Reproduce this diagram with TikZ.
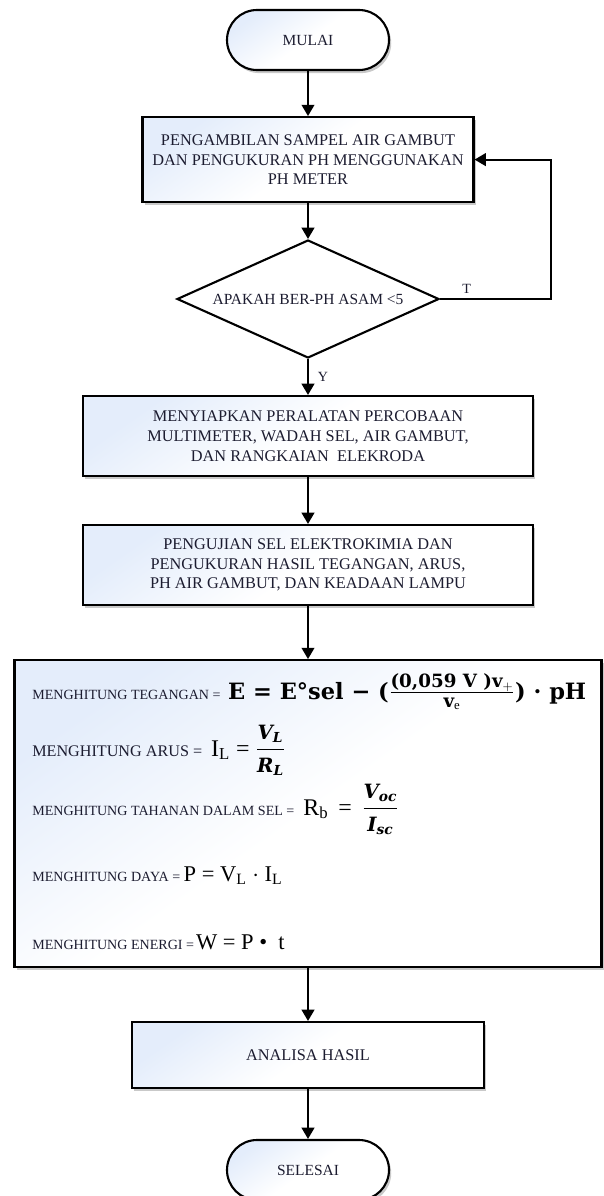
\documentclass[tikz,border=0pt]{standalone}
\usepackage{amsmath}
\usepackage{fontspec}
\setmainfont{Liberation Serif}
\newfontfamily\eqfont{DejaVu Serif}
\usepackage{tikz}
\usetikzlibrary{arrows.meta,positioning,shapes.geometric,shadows}
\definecolor{InkDark}{RGB}{28,28,48}
\definecolor{FillBlue}{RGB}{228,237,251}

\begin{document}
\begin{tikzpicture}[
      pShadow/.style={drop shadow={shadow xshift=1.6pt,shadow yshift=-2.2pt,opacity=0.3,fill=black!70}},
      pFill/.style={top color=FillBlue,bottom color=white,middle color=white,shading angle=35},
      termNode/.style={draw=black,pFill,pShadow,rounded corners=0.75cm,
                    minimum width=4.05cm,minimum height=1.5cm,inner sep=0pt,
                    font=\fontsize{11}{13}\selectfont,text=InkDark,line width=1.5pt},
      procNode/.style={draw=black,pFill,pShadow,
                    minimum height=2.0cm,inner sep=0pt,align=center,
                    font=\fontsize{11.6}{14}\selectfont,text=InkDark,line width=1.5pt},
      decNode/.style={draw=black,fill=white,diamond,aspect=2.22,
                    minimum width=6.55cm,minimum height=2.95cm,inner sep=0pt,
                    font=\fontsize{11}{14}\selectfont,text=InkDark,line width=1.5pt},
      lblNode/.style={anchor=base west,inner sep=0pt,text=InkDark,
                    font=\fontsize{10}{12}\selectfont},
      eqNode/.style={anchor=base west,inner sep=0pt,text=black},
      ar/.style={-{Triangle[length=8pt,width=9pt]},line width=1.4pt,color=black}
    ]
    \useasboundingbox (0,0) rectangle (15.1,-29.9);

    % Start, sampling and pH check
    \node(mulai)[termNode] at (7.7,-1.0) {MULAI};
    \node(n1)[procNode,minimum width=8.275cm,minimum height=2.125cm] at (7.7,-3.99)
      {PENGAMBILAN SAMPEL AIR GAMBUT\\DAN PENGUKURAN PH MENGGUNAKAN\\PH METER};
    \node(cek)[decNode] at (7.7,-7.475) {APAKAH BER-PH ASAM <5};

    % Preparation and testing
    \node(n2)[procNode,minimum width=11.25cm] at (7.7,-10.9)
      {MENYIAPKAN PERALATAN PERCOBAAN\\MULTIMETER, WADAH SEL, AIR GAMBUT,\\DAN RANGKAIAN \ ELEKRODA};
    \node(n3)[procNode,minimum width=11.25cm] at (7.7,-14.125)
      {PENGUJIAN SEL ELEKTROKIMIA DAN\\PENGUKURAN HASIL TEGANGAN, ARUS,\\PH AIR GAMBUT, DAN KEADAAN LAMPU};

    % Calculation box
    \node(n4)[procNode,minimum width=14.675cm,minimum height=7.675cm] at (7.7,-20.34) {};
    \node(l1)[lblNode] at (0.8,-17.475) {MENGHITUNG TEGANGAN =};
    \node(e1)[eqNode,font=\eqfont\bfseries\fontsize{16}{19}\selectfont] at ([xshift=5pt]l1.base east)
      {E = E°sel − ($\frac{\hbox{\fontsize{13}{15}\selectfont(0,059 V )v$_{+}$}}{\hbox{\fontsize{13}{15}\selectfont v$_{\mathrm{e}}$}}$) · pH};
    \node(l2)[lblNode,font=\fontsize{11.5}{13}\selectfont] at (0.8,-18.9) {MENGHITUNG ARUS =};
    \node(e2)[eqNode,font=\fontsize{17}{20}\selectfont] at ([xshift=6pt]l2.base east)
      {I\textsubscript{L} = $\dfrac{\hbox{\eqfont\bfseries\itshape\fontsize{14}{16}\selectfont V\textsubscript{L}}}{\hbox{\eqfont\bfseries\itshape\fontsize{14}{16}\selectfont R\textsubscript{L}}}$};
    \node(l3)[lblNode] at (0.8,-20.375) {MENGHITUNG TAHANAN DALAM SEL =};
    \node(e3)[eqNode,font=\fontsize{17}{20}\selectfont] at ([xshift=6pt]l3.base east)
      {R\textsubscript{b} \,= \,$\dfrac{\hbox{\eqfont\bfseries\itshape\fontsize{14}{16}\selectfont V\textsubscript{oc}}}{\hbox{\eqfont\bfseries\itshape\fontsize{14}{16}\selectfont I\textsubscript{sc}}}$};
    \node(l4)[lblNode] at (0.8,-22.025) {MENGHITUNG DAYA =};
    \node(e4)[eqNode,font=\fontsize{16}{19}\selectfont] at ([xshift=2pt]l4.base east)
      {P = V\textsubscript{L} $\cdot$ I\textsubscript{L}};
    \node(l5)[lblNode] at (0.8,-23.725) {MENGHITUNG ENERGI =};
    \node(e5)[eqNode,font=\fontsize{16}{19}\selectfont] at ([xshift=1pt]l5.base east)
      {W = P \textbullet\ \ t};

    % Analysis and end
    \node(n5)[procNode,minimum width=8.8cm,minimum height=1.65cm] at (7.7,-26.375) {ANALISA HASIL};
    \node(selesai)[termNode] at (7.7,-29.25) {SELESAI};

    % Main flow arrows
    \draw[ar] (mulai) -- (n1);
    \draw[ar] (n1) -- (cek);
    \draw[ar] (cek) -- node[right,xshift=3pt,pos=0.5,font=\fontsize{10}{12}\selectfont,text=InkDark]{Y} (n2);
    \draw[ar] (n2) -- (n3);
    \draw[ar] (n3) -- (n4);
    \draw[ar] (n4) -- (n5);
    \draw[ar] (n5) -- (selesai);

    % Loop back when pH is not acidic
    \draw[ar] (cek.east) -- node[above,pos=0.24,font=\fontsize{10}{12}\selectfont,text=InkDark]{T}
      (13.775,-7.475) |- (n1.east);
  \end{tikzpicture}
\end{document}
